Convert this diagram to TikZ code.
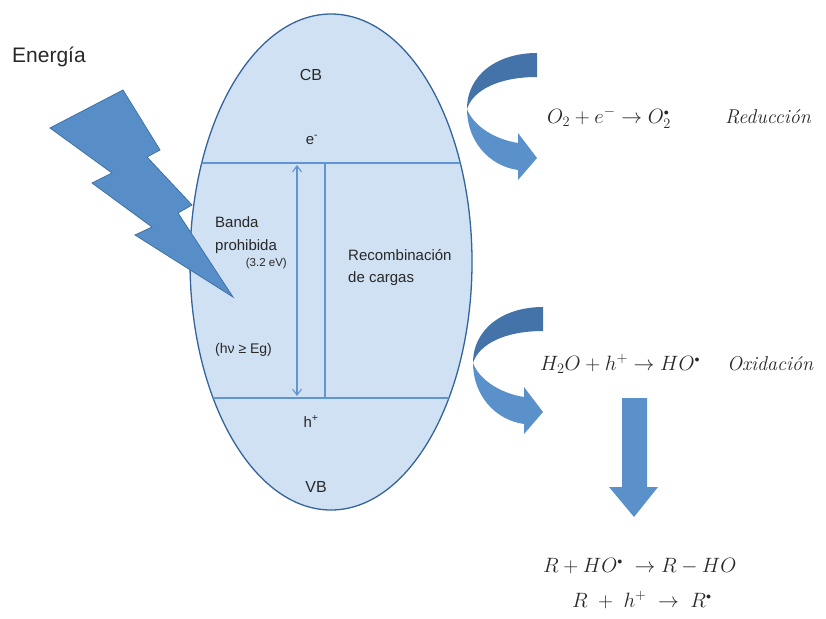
\documentclass[tikz,border=0pt]{standalone}
\usepackage{fontspec}
\setsansfont{Liberation Sans}
\usepackage{graphicx}
\usetikzlibrary{arrows.meta,shapes.geometric}
\definecolor{ellfill}{RGB}{208,225,243}
\definecolor{elldraw}{RGB}{52,100,155}
\definecolor{linec}{RGB}{95,150,210}
\definecolor{boltc}{RGB}{88,142,200}
\definecolor{boltd}{RGB}{65,113,165}
\definecolor{arrdark}{RGB}{68,115,170}
\definecolor{arrlight}{RGB}{90,145,202}
\definecolor{txt}{RGB}{40,40,40}
\tikzset{
  lbl/.style={font=\sffamily\fontsize{15}{18}\selectfont, inner sep=0pt, text=txt, anchor=base west},
  lblc/.style={lbl, anchor=base},
  eqn/.style={font=\fontsize{20}{24}\selectfont, inner sep=0pt, text=txt, anchor=base west},
  inline/.style={draw=linec, line width=1.3pt},
  curvedarrow/.pic={
    \fill[arrdark] (0,0) .. controls (-40,0) and (-70,22) .. (-70,56)
       .. controls (-64,37) and (-38,24) .. (0,24) -- cycle;
    \fill[arrlight] (-70,56) .. controls (-70,88) and (-48,113) .. (-19,117)
       -- (-19,127) -- (0,105) -- (-19,80) -- (-19,90)
       .. controls (-44,86) and (-64,72) .. (-70,56) -- cycle;
  }
}
\begin{document}
\begin{tikzpicture}[x=1pt,y=-1pt]
\useasboundingbox (0,0) rectangle (826,618);

% semiconductor particle
\node[ellipse, draw=elldraw, fill=ellfill, line width=1.3pt, minimum width=282pt, minimum height=496pt, inner sep=0pt] (sc) at (331,262) {};
\begin{scope}
  \clip (331,262) ellipse [x radius=141, y radius=248];
  \coordinate (cbL) at (180,163); \coordinate (cbR) at (480,163);
  \coordinate (vbL) at (180,398); \coordinate (vbR) at (480,398);
  \draw[inline] (cbL) -- (cbR);
  \draw[inline] (vbL) -- (vbR);
\end{scope}
\coordinate (gtop) at (297,165);
\coordinate (gbot) at (297,396);
\draw[draw=linec, line width=1.1pt, {Straight Barb[length=6pt,width=9pt]}-{Straight Barb[length=6pt,width=9pt]}] (gtop) -- (gbot);
\coordinate (rtop) at (325,163);
\coordinate (rbot) at (325,398);
\draw[inline] (rtop) -- (rbot);

% texts inside
\node[lblc, font=\sffamily\fontsize{16}{18}\selectfont] (cb) at (311,80) {CB};
\node[lblc] (em) at (312,144) {e\textsuperscript{-}};
\node[lblc] (hp) at (311,427) {h\textsuperscript{+}};
\node[lblc, font=\sffamily\fontsize{16}{18}\selectfont] (vb) at (316,492) {VB};
\node[lbl] (banda) at (215,227) {Banda};
\node[lbl] (proh) at (215,250) {prohibida};
\node[lbl, anchor=base east, font=\sffamily\fontsize{11.5}{13}\selectfont] (ev) at (287,266) {(3.2 eV)};
\node[lbl, font=\sffamily\fontsize{14}{16}\selectfont] (hv) at (215,353) {(hν ≥ Eg)};
\node[lbl] (rec) at (348,260) {Recombinación};
\node[lbl] (carg) at (348,282) {de cargas};

% energy
\node[lbl, font=\sffamily\fontsize{21}{24}\selectfont] (en) at (12,63) {Energía};
\filldraw[fill=boltc, draw=boltd, line width=0.8pt] (123,90) -- (160,150) -- (147,157) -- (192,205) -- (178,213) -- (233,297) -- (135,235) -- (152,227) -- (92,183) -- (112,173) -- (50,128) -- cycle;

% curved arrows
\pic at (537,53) {curvedarrow};
\pic at (543,307) {curvedarrow};

% down arrow
\fill[arrlight] (622,398) -- (647,398) -- (647,487) -- (658,487) -- (634,517) -- (609,487) -- (622,487) -- cycle;

% reactions
\node[eqn] (r1) at (547,123) {$O_2+e^-\rightarrow O_2^{\scriptscriptstyle\bullet}$};
\node[eqn] (r1w) at (725,123) {\textit{Reducción}};
\node[eqn] (r2) at (540,370) {$H_2O+h^+\rightarrow HO^{\scriptscriptstyle\bullet}$};
\node[eqn] (r2w) at (727,370) {\textit{Oxidación}};
\node[eqn] (r3) at (543,572) {$R+HO^{\scriptscriptstyle\bullet}\;\rightarrow R-HO$};
\node[eqn] (r4) at (572,607) {$R\;+\;h^+\;\rightarrow\; R^{\scriptscriptstyle\bullet}$};
\end{tikzpicture}
\end{document}
